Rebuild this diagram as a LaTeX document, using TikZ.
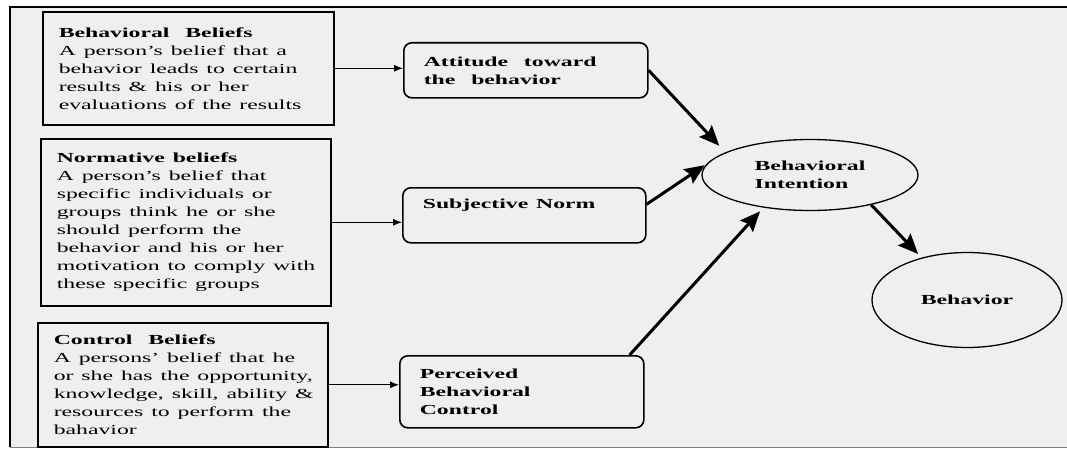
\documentclass[tikz,border=0pt]{standalone}
\usepackage{fontspec}
\setmainfont{Liberation Serif}
\usetikzlibrary{arrows.meta,shapes.geometric}
\definecolor{paper}{RGB}{239,239,241}
\newcommand\wl[1]{\scalebox{1.72}[1]{#1}}

\begin{document}
\begin{tikzpicture}[x=1pt,y=-1pt,line width=1.6pt,font=\fontsize{13.8}{18}\selectfont,
  belief/.style={draw,anchor=north west,inner xsep=16pt,inner ysep=0pt,align=left},
  construct/.style={draw,rounded corners=8pt,anchor=north west,inner xsep=20pt,inner ysep=0pt,align=left,font=\fontsize{13.8}{18}\selectfont\bfseries},
  oval/.style={draw,ellipse,line width=1.3pt,inner sep=0pt,align=left,font=\fontsize{13.8}{18}\selectfont\bfseries},
  feed/.style={line width=1pt,-{Latex[length=9pt,width=7pt]}},
  lead/.style={line width=3pt,-{Stealth[length=20pt,width=17pt,inset=3pt]}}]
\useasboundingbox (0,0) rectangle (1067,452);
\fill[white] (0,0) rectangle (1067,452);
\fill[paper] (10,7) rectangle (1067,447);
\draw[line width=2pt] (1067,7)--(10,7)--(10,447);
\draw[gray,line width=1pt] (10,447)--(1067,447);
% beliefs
\node[belief,text width=259pt,minimum height=113pt] (bb) at (42,11) {\wl{\textbf{Behavioral\ \ Beliefs}}\\\wl{A person's belief that a}\\\wl{behavior leads to certain}\\\wl{results \& his or her}\\\wl{evaluations of the results}};
\node[belief,text width=258pt,minimum height=167pt] (nb) at (40,138) {\wl{\textbf{Normative beliefs}}\\\wl{A person's belief that}\\\wl{specific individuals or}\\\wl{groups think he or she}\\\wl{should perform the}\\\wl{behavior and his or her}\\\wl{motivation to comply with}\\\wl{these specific groups}};
\node[belief,text width=258pt,minimum height=124pt] (cb) at (37,322) {\wl{\textbf{Control\ \ Beliefs}}\\\wl{A persons' belief that he}\\\wl{or she has the opportunity,}\\\wl{knowledge, skill, ability \&}\\\wl{resources to perform the}\\\wl{bahavior}};
% constructs
\node[construct,text width=204pt,minimum height=55pt] (att) at (403,42) {\wl{Attitude\ \ toward}\\\wl{the\ \ behavior}};
\node[construct,text width=203pt,minimum height=55pt] (sn) at (402,187) {\wl{Subjective Norm}\\\strut};
\node[construct,text width=204pt,minimum height=72pt] (pbc) at (399,355) {\wl{Perceived}\\\wl{Behavioral}\\\wl{Control}};
\node[oval,minimum width=216pt,minimum height=71pt] (bi) at (810,175) {\wl{Behavioral}\\\wl{Intention}};
\node[oval,minimum width=190pt,minimum height=95pt] (beh) at (967,300) {\wl{Behavior}};
% arrows
\draw[feed] (bb.east) -- (bb.east -| att.west);
\draw[feed] (nb.east) -- (nb.east -| sn.west);
\draw[feed] (cb.east) -- (cb.east -| pbc.west);
\draw[lead,shorten >=9pt] (att.east) -- (bi.165);
\draw[lead,shorten >=2pt] ([yshift=11pt]sn.east) -- (bi.174);
\draw[lead,shorten >=5pt] ([xshift=-15pt]pbc.north east) -- (bi.215);
\draw[lead,shorten >=5pt] (bi.-26) -- (beh.137);
\end{tikzpicture}
\end{document}
